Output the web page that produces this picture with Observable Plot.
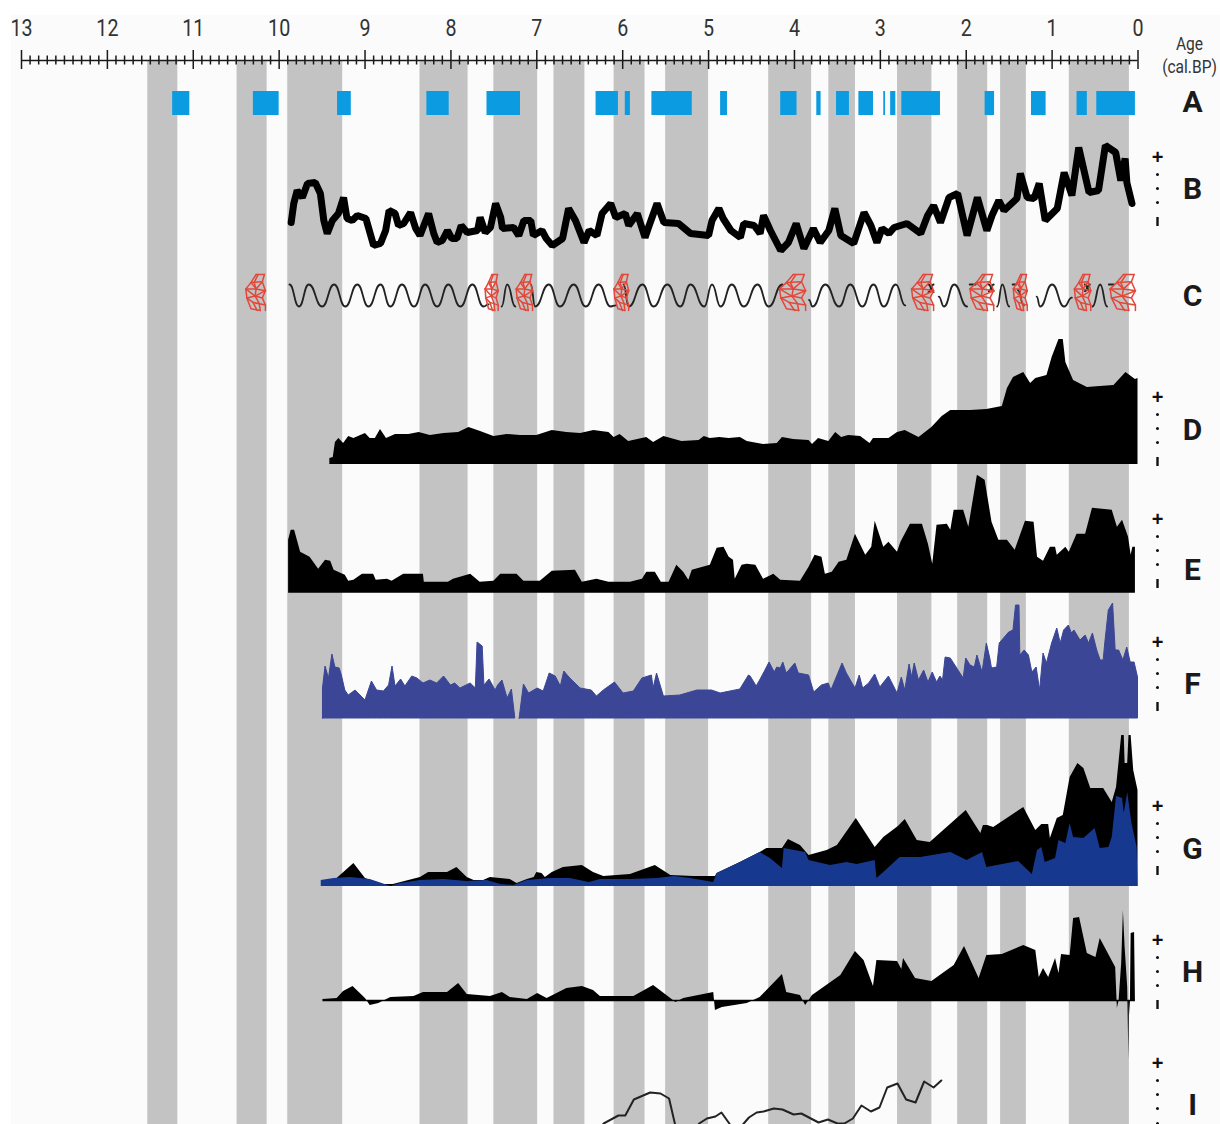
<!DOCTYPE html>
<html><head><meta charset="utf-8">
<style>
html,body{margin:0;padding:0;background:#fff;width:1220px;height:1124px;overflow:hidden}
#plate{position:absolute;left:11px;top:15px;width:1209px;height:1109px;background:#fbfbfb}
#chart{position:absolute;left:0;top:0}
svg{display:block;background:transparent}
</style>
<script src="https://cdn.jsdelivr.net/npm/d3@7"></script>
<script src="https://cdn.jsdelivr.net/npm/@observablehq/plot@0.6"></script>
</head><body><div id="plate"></div><div id="chart"></div>
<script>
const tickLabels = [13,12,11,10,9,8,7,6,5,4,3,2,1,0];
const wetBands = [[11.53,11.18],[10.49,10.14],[9.9,9.26],[8.36,7.8],[7.5,6.99],[6.8,6.44],[6.1,5.74],[5.5,5],[4.3,3.8],[3.6,3.29],[2.8,2.4],[2.1,1.75],[1.6,1.3],[0.8,0.1]];
const seriesA = [[11.24,11.04],[10.3,10],[9.32,9.16],[8.28,8.02],[7.58,7.19],[6.31,6.05],[5.97,5.91],[5.66,5.19],[4.86,4.78],[4.16,3.97],[3.74,3.69],[3.51,3.36],[3.25,3.08],[2.96,2.94],[2.88,2.82],[2.75,2.3],[1.78,1.67],[1.24,1.07],[0.71,0.59],[0.48,0.03]];
const seriesB = [[9.86,28],[9.83,47],[9.79,60],[9.73,53],[9.67,67],[9.58,68],[9.52,57],[9.48,30],[9.44,17],[9.38,30],[9.31,37],[9.25,53],[9.21,32],[9.15,30],[9.09,35],[8.99,32],[8.94,17],[8.9,5],[8.82,7],[8.76,20],[8.72,40],[8.65,37],[8.61,25],[8.55,27],[8.47,38],[8.41,22],[8.36,15],[8.26,37],[8.2,17],[8.16,8],[8.1,10],[8.04,20],[7.99,12],[7.93,12],[7.88,25],[7.81,18],[7.69,20],[7.66,33],[7.6,18],[7.54,23],[7.48,47],[7.42,33],[7.4,22],[7.27,23],[7.21,15],[7.15,30],[7.07,30],[7.04,15],[6.94,20],[6.89,12],[6.82,5],[6.7,12],[6.63,42],[6.55,30],[6.45,8],[6.39,20],[6.3,15],[6.24,37],[6.14,47],[6.08,33],[5.97,37],[5.93,25],[5.83,37],[5.74,13],[5.7,23],[5.6,47],[5.52,28],[5.35,27],[5.21,17],[5,15],[4.96,30],[4.88,42],[4.83,32],[4.74,20],[4.63,13],[4.59,27],[4.47,25],[4.4,17],[4.36,35],[4.28,20],[4.16,0],[4.07,8],[3.98,27],[3.89,2],[3.78,22],[3.7,8],[3.6,20],[3.53,42],[3.46,15],[3.31,7],[3.19,38],[3.11,25],[3.04,8],[2.98,22],[2.9,17],[2.84,23],[2.69,27],[2.53,17],[2.45,35],[2.38,45],[2.3,28],[2.2,53],[2.1,57],[1.99,15],[1.87,53],[1.76,20],[1.7,35],[1.62,50],[1.56,40],[1.41,52],[1.37,77],[1.29,53],[1.21,52],[1.15,67],[1.08,30],[0.94,42],[0.86,78],[0.77,55],[0.69,103],[0.57,58],[0.46,60],[0.38,105],[0.26,98],[0.2,70],[0.15,92],[0.13,68],[0.07,47]];
const waveSegments = [
 [[9.88,1],[9.77,-1],[9.655,1],[9.5,-1],[9.36,1],[9.23,-1],[9.09,1],[8.96,-1],[8.82,1],[8.705,-1],[8.57,1],[8.43,-1],[8.3,1],[8.16,-1],[8.03,1],[7.89,-1],[7.75,1],[7.62,-1],[7.56,-0.8]],
 [[7.41,-1],[7.345,1],[7.25,-1]],
 [[7.07,1],[7.02,-1],[6.86,1],[6.73,-1],[6.57,1],[6.43,-1],[6.28,1],[6.14,-1],[6.08,-0.9]],
 [[5.99,1],[5.93,-1],[5.77,1],[5.64,-1],[5.48,1],[5.33,-1],[5.21,1],[5.05,-1],[4.96,1],[4.86,-1],[4.73,1],[4.59,-1],[4.43,1],[4.3,-1],[4.14,1]],
 [[3.83,-0.4],[3.79,-1],[3.64,1],[3.48,-1],[3.35,1],[3.21,-1],[3.08,1],[2.96,-1],[2.82,1],[2.71,-0.9]],
 [[2.32,-0.1],[2.26,-1],[2.14,1],[1.99,-1]],
 [[1.64,-1],[1.58,1],[1.5,-1]],
 [[1.18,-0.1],[1.14,-1],[1,1],[0.86,-1],[0.77,-0.2]],
 [[0.53,-1],[0.44,1],[0.36,-1]],
 [[2.44,1],[2.38,0.3]],[[2.38,1],[2.44,0.3]],
 [[1.96,1],[1.89,1]],[[1.74,1],[1.68,0.4]],[[1.68,1],[1.74,0.4]],
 [[1.46,1],[1.42,1]],[[1.4,0.5],[1.33,-0.9]],
 [[0.62,1],[0.56,0.4]],[[0.56,1],[0.62,0.4]],[[0.34,1],[0.28,1]]
];
const reticulatePatches = [[10.4,10.16],[7.61,7.45],[7.25,7.05],[6.11,5.93],[4.19,3.87],[2.65,2.38],[1.97,1.68],[1.46,1.29],[0.75,0.55],[0.34,0.03]];
const netTemplate = [
 [[0.55,1],[0.3,0.55],[0.05,0.2],[0.1,-0.3],[0.4,-0.55],[0.6,-1]],
 [[0.95,1],[0.85,0.6],[1,0.1],[0.85,-0.3],[1,-0.7],[1,-1]],
 [[0.55,1],[0.95,1]],[[0.3,0.55],[0.85,0.6]],[[0.05,0.2],[0.55,0.2],[1,0.1]],
 [[0.1,-0.3],[0.5,-0.2],[0.85,-0.3]],[[0.4,-0.55],[1,-0.7]],
 [[0.65,1],[0.45,0.55],[0.55,0.2],[0.5,-0.2],[0.7,-0.6],[0.75,-1]],
 [[0.85,0.6],[0.55,0.2]],[[0.3,0.55],[0.55,0.2]],[[0.05,0.2],[0.5,-0.2]],[[1,0.1],[0.5,-0.2]],
 [[0.1,-0.3],[0.3,-0.9],[0.75,-1]]
];
const seriesD = [[9.41,0],[9.41,6],[9.37,7],[9.345,22],[9.305,26],[9.25,21],[9.19,28],[9.13,26],[9.05,29],[8.995,31],[8.94,26],[8.88,26],[8.82,35],[8.75,26],[8.645,30],[8.49,30],[8.37,32],[8.24,29],[8.08,31],[7.91,32],[7.79,37],[7.655,33],[7.5,28],[7.345,30],[7.19,29],[7,29],[6.82,34],[6.65,32],[6.49,31],[6.335,34],[6.16,32],[6.1,27],[6.03,30],[5.93,23],[5.72,27],[5.64,22],[5.52,28],[5.31,23],[5.11,24],[5.05,28],[4.98,26],[4.87,27],[4.76,26],[4.63,27],[4.55,23],[4.36,20],[4.2,21],[4.14,27],[4.01,25],[3.83,24],[3.79,20],[3.72,26],[3.6,23],[3.52,32],[3.45,27],[3.37,29],[3.23,28],[3.12,21],[3.08,26],[2.9,26],[2.8,32],[2.71,34],[2.55,27],[2.4,37],[2.28,48],[2.18,54],[1.95,54],[1.76,55],[1.58,58],[1.52,76],[1.45,87],[1.33,92],[1.25,81],[1.19,86],[1.06,89],[1,107],[0.92,125],[0.87,125],[0.84,102],[0.75,84],[0.59,77],[0.44,78],[0.28,79],[0.14,92],[0.03,85],[0,86],[0,0]];
const seriesE = [[9.89,0],[9.89,53],[9.86,63],[9.82,63],[9.75,41],[9.64,36],[9.54,24],[9.46,33],[9.4,32],[9.36,23],[9.23,18],[9.19,12],[9.13,13],[9.03,19],[8.9,19],[8.87,13],[8.74,14],[8.685,12],[8.55,19],[8.32,19],[8.31,11],[8.03,11],[7.97,14],[7.77,19],[7.66,11],[7.5,12],[7.42,19],[7.23,19],[7.15,12],[6.96,12],[6.82,22],[6.55,23],[6.47,11],[6.3,14],[6.16,11],[5.91,11],[5.77,14],[5.72,21],[5.62,21],[5.55,11],[5.46,11],[5.37,28],[5.29,21],[5.23,13],[5.19,23],[4.98,28],[4.9,45],[4.82,46],[4.76,36],[4.71,33],[4.69,14],[4.61,28],[4.55,29],[4.45,28],[4.36,14],[4.24,19],[4.16,13],[3.93,12],[3.83,26],[3.76,38],[3.68,36],[3.64,19],[3.56,21],[3.48,31],[3.39,33],[3.29,59],[3.17,38],[3.1,46],[3.06,72],[2.96,46],[2.9,51],[2.8,41],[2.76,51],[2.65,69],[2.51,69],[2.44,49],[2.39,29],[2.34,68],[2.22,69],[2.18,63],[2.14,83],[2.03,83],[1.97,66],[1.87,118],[1.78,113],[1.7,71],[1.62,53],[1.52,53],[1.43,43],[1.31,72],[1.21,71],[1.17,36],[1.1,32],[1.02,46],[0.96,46],[0.94,38],[0.84,46],[0.8,41],[0.71,59],[0.61,59],[0.53,85],[0.3,83],[0.24,66],[0.18,73],[0.11,56],[0.08,38],[0.06,46],[0.03,46],[0.03,0]];
const seriesF = [[9.49,0],[9.49,30],[9.46,52],[9.42,40],[9.38,64],[9.345,51],[9.295,50],[9.27,43],[9.23,28],[9.19,23],[9.11,28],[8.995,18],[8.92,37],[8.86,28],[8.78,27],[8.72,33],[8.68,52],[8.645,32],[8.58,39],[8.53,32],[8.45,42],[8.39,40],[8.32,35],[8.24,38],[8.16,35],[8.08,42],[8,33],[7.95,35],[7.89,30],[7.77,35],[7.71,30],[7.69,76],[7.63,72],[7.61,33],[7.55,39],[7.48,28],[7.45,33],[7.4,38],[7.34,20],[7.29,29],[7.25,0]];
const seriesF2 = [[7.2,0],[7.15,34],[7.09,25],[6.99,30],[6.92,27],[6.85,45],[6.78,42],[6.72,32],[6.68,47],[6.61,40],[6.49,30],[6.36,28],[6.3,22],[6.22,28],[6.09,36],[5.99,25],[5.87,27],[5.77,40],[5.66,43],[5.64,30],[5.6,45],[5.52,22],[5.33,23],[5.13,28],[4.96,28],[4.86,25],[4.63,29],[4.53,43],[4.51,42],[4.44,32],[4.4,38],[4.35,46],[4.29,56],[4.23,46],[4.2,51],[4.16,50],[4.13,56],[4.09,45],[3.99,55],[3.95,45],[3.83,43],[3.77,26],[3.68,33],[3.6,35],[3.57,28],[3.44,55],[3.39,45],[3.29,30],[3.24,43],[3.2,30],[3.13,35],[3.06,44],[3,31],[2.9,42],[2.8,25],[2.75,41],[2.71,28],[2.66,54],[2.63,41],[2.6,55],[2.55,38],[2.49,48],[2.44,36],[2.39,46],[2.34,36],[2.3,42],[2.27,38],[2.24,61],[2.18,60],[2.09,48],[2.03,40],[2,60],[1.95,53],[1.9,51],[1.87,63],[1.81,46],[1.76,75],[1.72,60],[1.7,50],[1.64,51],[1.61,75],[1.56,80],[1.5,86],[1.45,88],[1.42,113],[1.38,113],[1.37,63],[1.32,68],[1.27,63],[1.23,46],[1.18,51],[1.14,28],[1.1,65],[1.06,55],[1,75],[0.94,90],[0.9,75],[0.86,88],[0.805,93],[0.77,85],[0.74,88],[0.67,78],[0.61,83],[0.57,75],[0.525,85],[0.475,68],[0.435,58],[0.4,58],[0.38,76],[0.34,108],[0.29,115],[0.26,68],[0.22,68],[0.17,58],[0.125,71],[0.085,56],[0.04,56],[0,41],[0,0]];
const seriesGBlack = [[9.51,0],[9.325,8],[9.13,23],[8.995,8],[8.8,2],[8.67,2],[8.355,9],[8.26,14],[8.04,14],[7.93,19],[7.81,9],[7.73,6],[7.62,6],[7.54,9],[7.31,7],[7.23,3],[7.11,7],[7.03,9],[7,14],[6.94,13],[6.9,9],[6.82,14],[6.69,19],[6.47,21],[6.34,14],[6.22,10],[5.91,12],[5.62,21],[5.44,11],[5.17,10],[4.92,10],[4.9,13],[4.63,24],[4.4,34],[4.32,38],[4.14,38],[4.07,47],[3.93,41],[3.83,31],[3.62,36],[3.5,41],[3.28,68],[3.06,39],[2.96,49],[2.79,60],[2.71,67],[2.57,46],[2.42,44],[2,76],[1.83,53],[1.8,61],[1.75,61],[1.68,59],[1.33,79],[1.19,56],[1.12,62],[1.04,62],[1.02,48],[0.94,68],[0.87,71],[0.79,109],[0.7,123],[0.63,118],[0.55,98],[0.4,98],[0.3,84],[0.25,99],[0.19,151],[0.16,151],[0.15,123],[0.12,123],[0.105,151],[0.08,151],[0.05,116],[0,96],[0,0]];
const seriesGBlue = [[9.51,0],[9.51,6],[9.36,8],[9.17,9],[8.94,7],[8.8,3],[8.7,0],[8.59,3],[8.355,6],[8.08,7],[7.81,5],[7.58,6],[7.42,2],[7.27,1],[7.11,6],[6.84,8],[6.61,8],[6.39,4],[6.26,7],[5.91,7],[5.6,8],[5.4,10],[5.21,8],[4.94,4],[4.9,13],[4.63,24],[4.4,34],[4.28,28],[4.14,18],[4.12,38],[3.87,34],[3.83,26],[3.58,21],[3.39,24],[3.27,22],[3.06,26],[3.04,8],[2.96,14],[2.77,29],[2.53,29],[2.18,34],[1.99,26],[1.81,34],[1.76,19],[1.39,25],[1.23,12],[1.17,36],[1.12,39],[1.08,24],[0.96,28],[0.92,46],[0.84,43],[0.79,63],[0.75,49],[0.63,48],[0.5,58],[0.44,38],[0.34,39],[0.3,49],[0.25,90],[0.18,88],[0.16,73],[0.12,94],[0.07,63],[0.01,39],[0,0]];
const seriesH = [[9.49,1],[9.325,2],[9.25,9],[9.14,14],[8.995,2],[8.94,-5],[8.84,-3],[8.7,3],[8.43,4],[8.32,8],[8.04,8],[7.91,17],[7.81,6],[7.54,4],[7.4,8],[7.31,3],[7.11,1],[6.99,7],[6.88,2],[6.65,12],[6.47,14],[6.34,10],[6.26,4],[5.87,4],[5.64,15],[5.44,2],[5.38,-2],[5.29,2],[4.94,8],[4.92,-10],[4.84,-7],[4.55,-3],[4.4,3],[4.32,10],[4.14,26],[4.09,8],[3.93,5],[3.87,-5],[3.79,5],[3.46,25],[3.29,49],[3.19,40],[3.08,14],[3.04,40],[2.8,39],[2.75,31],[2.73,42],[2.59,22],[2.4,19],[2.14,35],[2.02,54],[1.85,22],[1.76,45],[1.58,46],[1.33,55],[1.19,50],[1.15,23],[1.1,32],[1.04,23],[0.96,42],[0.92,27],[0.89,46],[0.79,45],[0.75,82],[0.68,83],[0.59,47],[0.49,43],[0.44,62],[0.26,33],[0.24,-8],[0.22,0],[0.19,37],[0.17,90],[0.15,53],[0.12,13],[0.106,-60],[0.1,0],[0.09,-15],[0.08,67],[0.04,68],[0.03,0]];
const seriesI = [[6.3,50],[6.22,57],[6.05,65],[5.97,65],[5.87,81],[5.68,88],[5.56,87],[5.46,82],[5.39,56],[5.26,35],[5.11,57],[5.02,62],[4.92,64],[4.85,68],[4.75,56],[4.68,42],[4.6,56],[4.53,63],[4.44,68],[4.36,69],[4.24,72],[4.14,71],[4.01,66],[3.92,67],[3.72,58],[3.61,61],[3.5,57],[3.42,57],[3.32,62],[3.22,75],[3.11,69],[3.01,73],[2.92,93],[2.8,97],[2.7,81],[2.59,78],[2.49,99],[2.38,93],[2.29,100]];

// Panel layout (plot y scale runs top to bottom)
const axisY = 60, bandBottom = 1124;
const barTop = 91, barBottom = 115;
const baseB = 250, baseD = 464, baseE = 592.7, baseF = 718, baseG = 886, baseH = 1000, baseI = 1180;
const waveMid = 295, waveAmp = 11, netMid = 292, netAmp = 18;
const keyX = -0.227, letterX = -0.635;
const keyTops = [157, 397, 519, 642, 806, 940, 1063];
const letters = [["A",102],["B",189],["C",296],["D",430],["E",570],["F",684],["G",849],["H",972],["I",1105]];

const placed = (rows, base) => rows.map(([age, v]) => ({age, y: base - v}));
const majors = tickLabels;
const minors = d3.range(0, 131).map(i => i / 10).filter(a => !majors.includes(a));
const waves = waveSegments.flatMap((s, i) => s.map(([age, v]) => ({age, y: waveMid - v * waveAmp, k: i})));
const nets = reticulatePatches.flatMap((p, i) => netTemplate.flatMap((poly, j) => poly.map(([u, v]) => ({age: p[0] + (p[1] - p[0]) * u, y: netMid - v * netAmp, k: i + "-" + j}))));
const keyDots = keyTops.flatMap(t => [17, 31, 45].concat(t === 1063 ? [60] : []).map(o => ({y: t + o})));
const fam = "Roboto,sans-serif";
const area = (rows, base, fill, extra = {}) => Plot.areaY(placed(rows, base), {x: "age", y1: () => base, y2: "y", fill, ...extra});

const chart = Plot.plot({
  width: 1220, height: 1124, margin: 0,
  x: {domain: [13, 0], range: [21, 1137.5], axis: null},
  y: {domain: [0, 1124], range: [0, 1124], axis: null},
  style: {background: "transparent"},
  marks: [
    Plot.rect(wetBands, {x1: d => d[0], x2: d => d[1], y1: () => axisY, y2: () => bandBottom, fill: "#c3c3c3"}),
    Plot.ruleY([axisY], {x1: () => 13, x2: () => 0, stroke: "#1a1a1a", strokeWidth: 1.6}),
    Plot.ruleX(majors, {y1: () => 50, y2: () => 69, stroke: "#1a1a1a", strokeWidth: 1.5}),
    Plot.ruleX(minors, {y1: () => 55.5, y2: () => 64.5, stroke: "#1a1a1a", strokeWidth: 1.5}),
    Plot.text(tickLabels, {x: d => d, y: () => 28, text: d => String(d), fontFamily: fam, fontSize: 24, fill: "#333"}),
    Plot.text(["Age", "(cal.BP)"], {x: () => -0.6, y: (d, i) => i ? 66 : 43, text: d => d, fontFamily: fam, fontSize: 19, fill: "#333"}),
    Plot.rect(seriesA, {x1: d => d[0], x2: d => d[1], y1: () => barTop, y2: () => barBottom, fill: "#0a9be0"}),
    Plot.line(placed(seriesB, baseB), {x: "age", y: "y", stroke: "#000", strokeWidth: 7, strokeLinejoin: "bevel"}),
    Plot.line(waves, {x: "age", y: "y", z: "k", curve: "bump-x", stroke: "#222", strokeWidth: 1.8}),
    Plot.line(nets, {x: "age", y: "y", z: "k", stroke: "#e2483a", strokeWidth: 1.5}),
    area(seriesD, baseD, "#000"),
    area(seriesE, baseE, "#000"),
    area(seriesF, baseF, "#3b4696", {stroke: "#3b4696", strokeWidth: 1}),
    area(seriesF2, baseF, "#3b4696", {stroke: "#3b4696", strokeWidth: 1}),
    area(seriesGBlack, baseG, "#000"),
    area(seriesGBlue, baseG, "#16388f"),
    area(seriesH, baseH, "#000"),
    Plot.ruleY([baseH], {x1: () => 9.49, x2: () => 0.03, stroke: "#000", strokeWidth: 1.5}),
    Plot.line(placed(seriesI, baseI), {x: "age", y: "y", stroke: "#222", strokeWidth: 2}),
    Plot.text(keyTops, {x: () => keyX, y: d => d, text: () => "+", fontFamily: "'Liberation Sans',sans-serif", fontWeight: "bold", fontSize: 20, fill: "#111"}),
    Plot.dot(keyDots, {x: () => keyX, y: "y", r: 1.5, fill: "#111"}),
    Plot.ruleX(keyTops.filter(t => t !== 1063), {x: () => keyX, y1: d => d + 60, y2: d => d + 69, stroke: "#111", strokeWidth: 2.4}),
    Plot.text(letters, {x: () => letterX, y: d => d[1], text: d => d[0], fontFamily: fam, fontWeight: "bold", fontSize: 30, fill: "#1a1a1a"})
  ]
});
// The reference's labels use a condensed face: narrow the tick and unit labels horizontally.
chart.querySelectorAll("text").forEach(t => {
  const s = t.textContent;
  if (/^\d+$/.test(s) || s === "Age" || s === "(cal.BP)") {
    const tr = t.getAttribute("transform");
    if (tr) t.setAttribute("transform", tr + " scale(0.82,1)");
  }
});
document.getElementById("chart").appendChild(chart);
</script></body></html>
